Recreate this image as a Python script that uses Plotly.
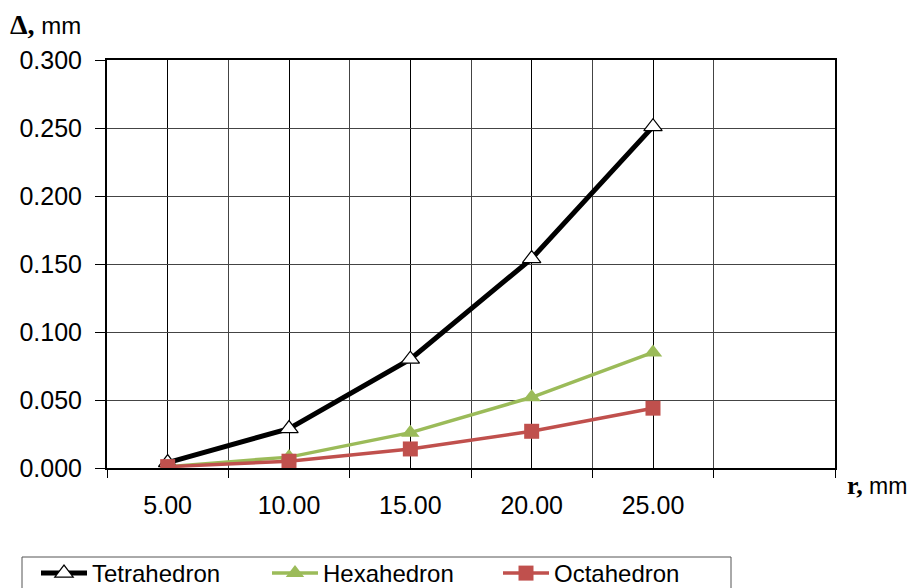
import plotly.graph_objects as go

categories = [5, 10, 15, 20, 25]
tetrahedron = [0.004, 0.029, 0.080, 0.154, 0.251]
hexahedron = [0.001, 0.008, 0.026, 0.052, 0.085]
octahedron = [0.001, 0.005, 0.014, 0.027, 0.044]
boundaries = [2.5, 7.5, 12.5, 17.5, 22.5, 27.5, 32.5]
y_ticks = [0, 0.05, 0.10, 0.15, 0.20, 0.25, 0.30]

FONT = "Liberation Sans, Arial, sans-serif"
SERIF = "Liberation Serif, Times New Roman, serif"

fig = go.Figure()
fig.add_trace(go.Scatter(
    x=categories, y=tetrahedron, name="Tetrahedron", mode="lines+markers",
    line=dict(color="black", width=5),
    marker=dict(symbol="triangle-up", size=16, color="white", line=dict(color="black", width=1.2)),
))
fig.add_trace(go.Scatter(
    x=categories, y=hexahedron, name="Hexahedron", mode="lines+markers",
    line=dict(color="#9BBB59", width=3.5),
    marker=dict(symbol="triangle-up", size=16, color="#9BBB59"),
))
fig.add_trace(go.Scatter(
    x=categories, y=octahedron, name="Octahedron", mode="lines+markers",
    line=dict(color="#C0504D", width=3.5),
    marker=dict(symbol="square", size=15, color="#C0504D"),
))

W, H = 910, 588
L, R, T, B = 107, 835, 60, 468

def px(xs):
    return (xs - L) / (R - L)

def py(ys):
    return (B - ys) / (B - T)

fig.update_layout(
    width=W, height=H,
    margin=dict(l=L, r=W - R, t=T, b=H - B, autoexpand=False),
    paper_bgcolor="white", plot_bgcolor="white",
    font=dict(family=FONT, size=25, color="black"),
    showlegend=True,
    hovermode=False,
    legend=dict(
        orientation="h", xref="container", yref="container",
        x=36 / W, y=1 - 551 / H, xanchor="left", yanchor="top",
        font=dict(size=24), entrywidth=170, itemwidth=46,
        bgcolor="rgba(0,0,0,0)", tracegroupgap=0,
    ),
    xaxis=dict(
        range=[2.5, 32.5], tickvals=categories,
        ticktext=[f"{c:.2f}" for c in categories],
        ticks="", showgrid=True, gridcolor="black", gridwidth=1,
        showline=True, linecolor="black", linewidth=2, mirror=True,
        zeroline=False, ticklabelstandoff=14, automargin=False,
        minor=dict(tickvals=boundaries, ticks="outside", ticklen=8, tickcolor="black",
                   showgrid=True, gridcolor="#444444", gridwidth=1),
    ),
    yaxis=dict(
        range=[0, 0.3], tickvals=y_ticks, tickformat=".3f",
        ticks="outside", ticklen=10, tickcolor="black",
        showgrid=True, gridcolor="#444444", gridwidth=1,
        showline=True, linecolor="black", linewidth=2, mirror=True,
        zeroline=False, ticklabelstandoff=8, automargin=False,
    ),
    shapes=[dict(
        type="rect", xref="paper", yref="paper",
        x0=px(22), x1=px(731), y0=py(557), y1=py(620),
        line=dict(color="#555555", width=1), fillcolor="rgba(0,0,0,0)", layer="below",
    )],
    annotations=[
        dict(xref="paper", yref="paper", x=px(8), y=py(24), xanchor="left", yanchor="middle",
             showarrow=False,
             text=f"<b><span style='font-family:{SERIF};font-size:28px'>Δ,</span></b> mm",
             font=dict(size=24)),
        dict(xref="paper", yref="paper", x=px(845), y=py(485), xanchor="left", yanchor="middle",
             showarrow=False,
             text=f"<b><span style='font-family:{SERIF};font-size:26px'>r,</span></b> mm",
             font=dict(size=23)),
    ],
)

fig.write_html(
    "out.html",
    config={"displayModeBar": False},
    post_script="document.body.style.margin='0';document.body.style.overflow='hidden';",
)
